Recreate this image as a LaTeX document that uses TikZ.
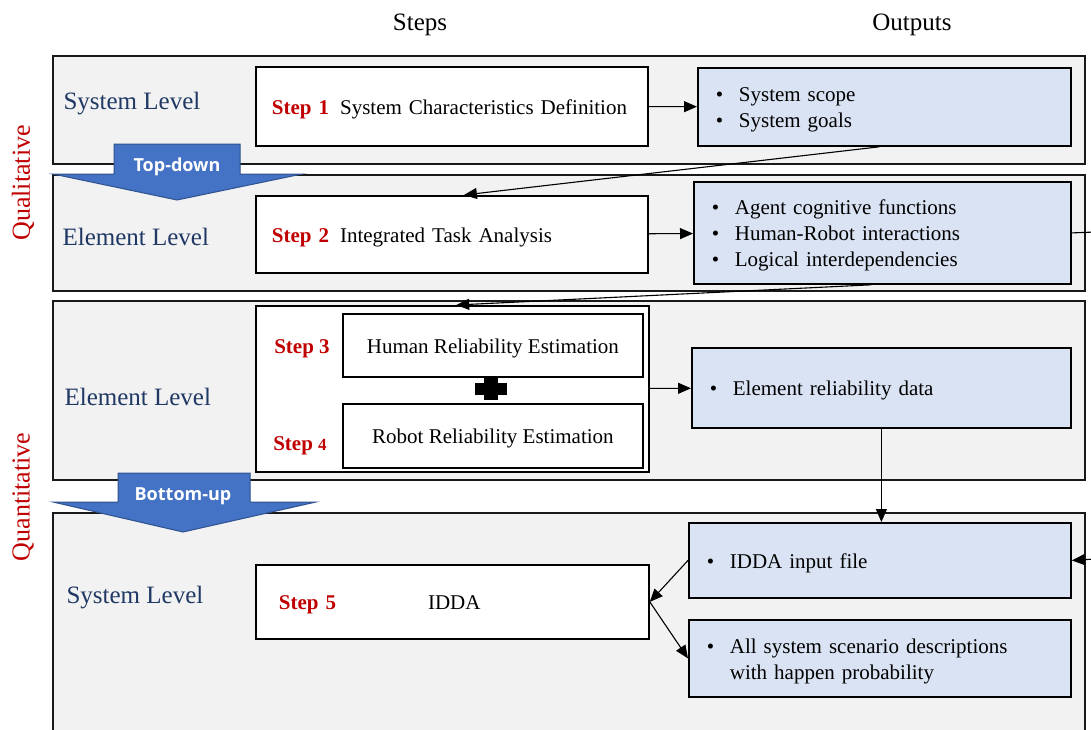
\documentclass[tikz,border=0pt]{standalone}
\usepackage{fontspec}
\setmainfont{Liberation Serif}
\newfontfamily\flowfont{Open Sans}
\usetikzlibrary{arrows.meta}
\usetikzlibrary{positioning}

\definecolor{bandgray}{HTML}{F2F2F2}
\definecolor{outblue}{HTML}{DAE3F3}
\definecolor{stepred}{HTML}{C00000}
\definecolor{lvlnavy}{HTML}{1F3864}
\definecolor{flowblue}{HTML}{4472C4}
\definecolor{flowedge}{HTML}{2F528F}

\newcommand{\bodysize}{\fontsize{21}{26}\selectfont}
\newcommand{\stepno}[1]{\textcolor{stepred}{\textbf{#1}}}
\newcommand{\outitem}[1]{\makebox[23pt][l]{\textbullet}#1}

\tikzset{
  lowtext/.style={execute at begin node={\rule{0pt}{20pt}}},
  band/.style={draw=black!90, line width=1.5pt, fill=bandgray, anchor=north west, inner sep=0pt},
  stepbox/.style={draw, line width=1.8pt, fill=white, anchor=north west, inner xsep=16pt, align=left, font=\bodysize, lowtext},
  outbox/.style={draw, line width=1.8pt, fill=outblue, anchor=north west, inner xsep=18pt, align=left, font=\bodysize, lowtext},
  lvl/.style={anchor=west, text=lvlnavy, font=\fontsize{25}{28}\selectfont},
  phase/.style={rotate=90, text=stepred, font=\fontsize{26}{30}\selectfont},
  flowbox/.style={fill=flowblue, draw=flowedge, line width=1pt},
  flowtext/.style={text=white, font=\flowfont\bfseries\fontsize{18}{20}\selectfont},
  link/.style={-{Triangle[length=13pt,width=11pt]}, line width=1.1pt},
}

\begin{document}
\begin{tikzpicture}[x=1pt, y=-1pt]
  \clip (0,0) rectangle (1091,729);
  \fill[white] (0,0) rectangle (1091,729);

  % column titles
  \node (tsteps) at (420,25) {\fontsize{25}{28}\selectfont Steps};
  \node (touts) at (912,25) {\fontsize{25}{28}\selectfont Outputs};

  % level bands
  \node (band1) [band, minimum width=1032pt, minimum height=108pt] at (52,55) {};
  \node (band2) [band, minimum width=1032pt, minimum height=116pt] at (52,174) {};
  \node (band3) [band, minimum width=1032pt, minimum height=179pt] at (52,300) {};
  \node (band4) [band, minimum width=1032pt, minimum height=240pt] at (52,512) {};

  \node (lvl1) [lvl] at (60,104) {System Level};
  \node (lvl2) [lvl] at (59,237) {Element Level};
  \node (lvl3) [lvl] at (61,397) {Element Level};
  \node (lvl4) [lvl] at (63,598) {System Level};

  \node (qual) [phase] at (23,183) {Qualitative};
  \node (quant) [phase] at (23,497) {Quantitative};

  % steps
  \node (s1) [stepbox, text width=360pt, minimum height=79pt] at (255,66)
    {\stepno{Step 1}\hspace{11pt}System Characteristics Definition};
  \node (s2) [stepbox, text width=360pt, minimum height=77pt] at (255,195)
    {\stepno{Step 2}\hspace{11pt}Integrated Task Analysis};

  \node (pair) [draw, line width=1.5pt, fill=white, anchor=north west,
    minimum width=393pt, minimum height=166pt] at (255,305) {};
  \node (s3) [draw, line width=1.8pt, anchor=north west, minimum width=300pt,
    minimum height=63pt, font=\bodysize, lowtext] at (342,313) {Human Reliability Estimation};
  \node (s4) [draw, line width=1.8pt, anchor=north west, minimum width=300pt,
    minimum height=64pt, font=\bodysize, lowtext] at (342,403) {Robot Reliability Estimation};
  \node (s3no) [font=\bodysize] at (302,349) {\stepno{Step 3}};
  \node (s4no) [font=\bodysize] at (300,446) {\stepno{Step {\fontsize{17}{20}\selectfont 4}}};
  \fill (475,383) rectangle (507,395);
  \fill (484,378) rectangle (498,400);

  \node (s5) [stepbox, text width=361pt, minimum height=74pt] at (255,564)
    {\hspace*{7pt}\stepno{Step 5}\hspace{92pt}IDDA};

  % outputs
  \node (out1) [outbox, text width=337pt, minimum height=78pt] at (697,67)
    {\outitem{System scope}\\ \outitem{System goals}};
  \node (out2) [outbox, text width=341pt, minimum height=102pt] at (693,181)
    {\outitem{Agent cognitive functions}\\ \outitem{Human-Robot interactions}\\ \outitem{Logical interdependencies}};
  \node (out3) [outbox, text width=343pt, minimum height=80pt] at (691,347)
    {\outitem{Element reliability data}};
  \node (in5) [outbox, text width=346pt, minimum height=75pt] at (688,522)
    {\outitem{IDDA input file}};
  \node (all5) [outbox, text width=346pt, minimum height=77pt] at (688,619)
    {\outitem{All system scenario descriptions}\\ \hspace*{23pt}with happen probability};

  % direction arrows
  \draw[flowbox] (114,144) -- (240,144) -- (240,174) -- (302,174) -- (177,200)
    -- (53,174) -- (114,174) -- cycle;
  \node (topdown) [flowtext] at (177,167) {Top-down};
  \draw[flowbox] (118,473) -- (250,473) -- (250,502) -- (316,502) -- (183,532)
    -- (53,502) -- (118,502) -- cycle;
  \node (bottomup) [flowtext] at (183,496) {Bottom-up};

  % links
  \coordinate (rimA) at (1095,232);
  \coordinate (rimB) at (1095,559);
  \draw[link] (s1) -- (out1);
  \draw[link] (s2) -- (out2);
  \draw[link] (pair) -- (out3);
  \draw[link] ([xshift=-5pt]out1.south) -- ([xshift=12pt]s2.north);
  \draw[link] ([xshift=-11pt]out2.south) -- ([xshift=4pt]pair.north);
  \draw[link] (out3.south) -- (out3.south |- in5.north);
  \draw[link] (in5.west) -- (s5.east);
  \draw[link] (s5.east) -- (all5.west);
  \draw[line width=1.1pt] (out2.east) -- (rimA);
  \draw[link] (rimB) -- (in5.east);
\end{tikzpicture}
\end{document}
